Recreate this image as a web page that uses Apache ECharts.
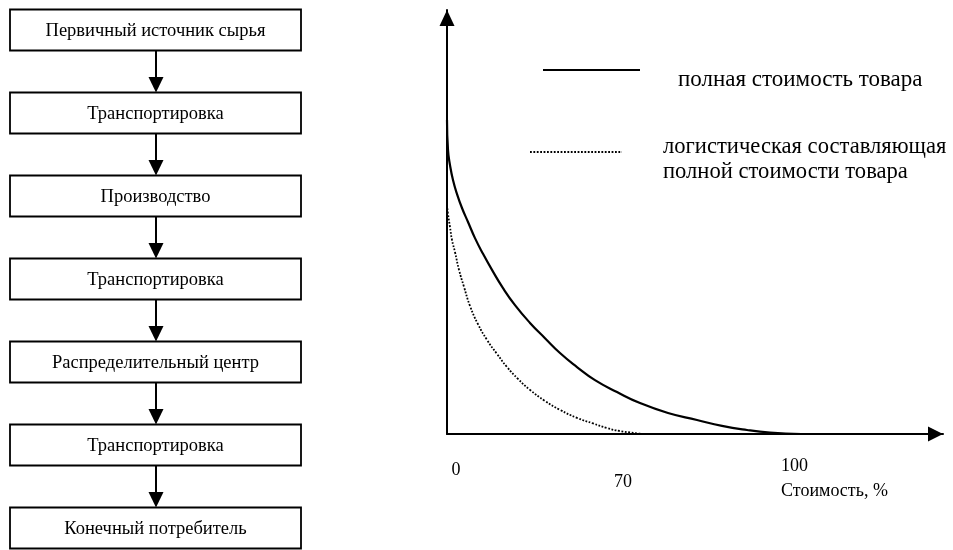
<!DOCTYPE html>
<html><head><meta charset="utf-8">
<script src="https://cdn.jsdelivr.net/npm/echarts@6/dist/echarts.min.js"></script>
<style>html,body{margin:0;padding:0;background:#fff}#c{width:953px;height:550px}</style>
</head><body><div id="c"></div>
<script>
// ---- data ----
const flowSteps = ['Первичный источник сырья', 'Транспортировка', 'Производство', 'Транспортировка', 'Распределительный центр', 'Транспортировка', 'Конечный потребитель'];
const fullCostX = [0, 0.28, 0.85, 1.69, 2.82, 4.23, 5.93, 7.9, 10.16, 12.7, 15.81, 19.19, 23.43, 27.66, 31.89, 36.69, 41.77, 47.98, 54.47, 62.38, 70.56, 77.62, 84.67, 91.17, 100];
const fullCostY = [74.1, 67.0, 63.4, 59.9, 56.6, 53.3, 50.0, 46.2, 42.5, 38.7, 34.4, 30.4, 26.2, 22.6, 19.1, 15.8, 12.7, 9.9, 7.3, 4.95, 3.3, 1.9, 0.94, 0.35, 0];
const logisticsX = [0, 0.28, 0.85, 1.41, 2.26, 3.39, 4.8, 6.49, 8.75, 11.29, 14.11, 16.93, 20.04, 23.43, 27.66, 31.89, 36.69, 41.21, 45.16, 48.83, 55.32];
const logisticsY = [54.0, 51.9, 48.8, 45.75, 42.9, 38.7, 34.7, 30.2, 25.9, 22.2, 18.9, 15.8, 13.0, 10.4, 7.8, 5.7, 3.8, 2.5, 1.4, 0.7, 0];
const xTickLabels = ['0', '70', '100'];
const xAxisTitle = 'Стоимость, %';
const seriesNames = ['полная стоимость товара', 'логистическая составляющая\nполной стоимости товара'];

const SERIF = '"Liberation Serif", "Times New Roman", serif';
const chart = echarts.init(document.getElementById('c'));

function txt(x, y, s, size, align, valign, extra) {
  return {
    type: 'text', x: x, y: y,
    style: Object.assign({ text: s, fill: '#000', font: size + 'px ' + SERIF,
      align: align, textAlign: align, verticalAlign: valign, textVerticalAlign: valign }, extra || {})
  };
}

const els = [];
// flowchart
const BX = 10, BY = 9.5, BW = 291, BH = 41, PITCH = 83, CX = 156;
flowSteps.forEach(function (s, i) {
  const top = BY + i * PITCH;
  els.push({ type: 'rect', shape: { x: BX, y: top, width: BW, height: BH }, style: { fill: '#fff', stroke: '#000', lineWidth: 1.8 } });
  els.push(txt(BX + BW / 2, top + BH / 2 + 1, s, 18.5, 'center', 'middle'));
  if (i < flowSteps.length - 1) {
    const y1 = top + BH, y2 = top + PITCH;
    els.push({ type: 'line', shape: { x1: CX, y1: y1, x2: CX, y2: y2 - 14 }, style: { stroke: '#000', lineWidth: 2 } });
    els.push({ type: 'polygon', shape: { points: [[CX - 7.5, y2 - 15.5], [CX + 7.5, y2 - 15.5], [CX, y2]] }, style: { fill: '#000' } });
  }
});
// legend
els.push({ type: 'line', shape: { x1: 543, y1: 70, x2: 640, y2: 70 }, style: { stroke: '#000', lineWidth: 2 } });
els.push({ type: 'line', shape: { x1: 530, y1: 152, x2: 622, y2: 152 }, style: { stroke: '#000', lineWidth: 1.8, lineDash: [1.8, 1.6] } });
els.push(txt(678, 80, seriesNames[0], 23, 'left', 'middle'));
els.push(txt(663, 160, seriesNames[1], 22.6, 'left', 'middle', { lineHeight: 25 }));
// axis labels
els.push(txt(456, 470, xTickLabels[0], 18, 'center', 'middle'));
els.push(txt(623, 482, xTickLabels[1], 18, 'center', 'middle'));
els.push(txt(781, 466, xTickLabels[2], 18, 'left', 'middle'));
els.push(txt(781, 491, xAxisTitle, 18, 'left', 'middle'));

chart.setOption({
  animation: false,
  backgroundColor: '#fff',
  grid: { left: 447, top: 10, right: 10, bottom: 116, containLabel: false },
  xAxis: {
    type: 'value', min: 0, max: 140,
    axisLine: { lineStyle: { color: '#000', width: 2 }, symbol: ['none', 'triangle'], symbolSize: [15, 15], symbolOffset: [0, -7.5] },
    axisTick: { show: false }, axisLabel: { show: false }, splitLine: { show: false }
  },
  yAxis: {
    type: 'value', min: 0, max: 100,
    axisLine: { show: true, lineStyle: { color: '#000', width: 2 }, symbol: ['none', 'triangle'], symbolSize: [15, 16], symbolOffset: [0, -8] },
    axisTick: { show: false }, axisLabel: { show: false }, splitLine: { show: false }
  },
  series: [
    { name: seriesNames[0], type: 'line', smooth: 0.5, symbol: 'none', z: 3,
      lineStyle: { color: '#000', width: 2.2 },
      data: fullCostX.map(function (x, i) { return [x, fullCostY[i]]; }) },
    { name: seriesNames[1], type: 'line', smooth: 0.5, symbol: 'none', z: 3,
      lineStyle: { color: '#000', width: 1.8, type: [1.8, 1.6] },
      data: logisticsX.map(function (x, i) { return [x, logisticsY[i]]; }) }
  ],
  graphic: { elements: els }
});
</script></body></html>
